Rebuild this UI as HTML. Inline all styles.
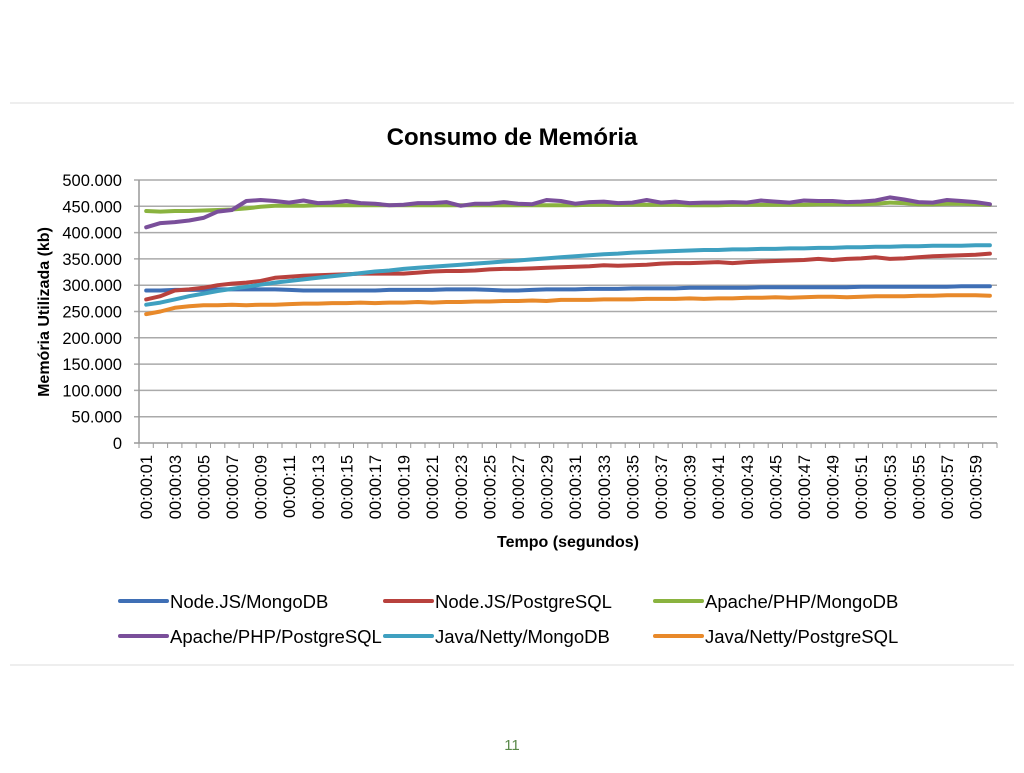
<!DOCTYPE html>
<html><head><meta charset="utf-8"><style>
body{margin:0;width:1024px;height:768px;background:#fff;overflow:hidden;font-family:"Liberation Sans",sans-serif}
</style></head><body>
<svg id="c" width="1024" height="768" xmlns="http://www.w3.org/2000/svg" font-family="Liberation Sans, sans-serif">
<line x1="10" y1="103" x2="1014" y2="103" stroke="#ddd" stroke-width="1"/>
<line x1="10" y1="665" x2="1014" y2="665" stroke="#ddd" stroke-width="1"/>
<text x="512" y="145" text-anchor="middle" font-size="24" font-weight="bold">Consumo de Memória</text>
<text transform="translate(49,312) rotate(-90)" text-anchor="middle" font-size="16" font-weight="bold">Memória Utilizada (kb)</text>
<text x="568" y="547" text-anchor="middle" font-size="16" font-weight="bold">Tempo (segundos)</text>
<text x="512" y="750" text-anchor="middle" font-size="15" fill="#5a8a4a">11</text>
<g id="grid"></g><g id="axes"></g><g id="series"></g><g id="legend"></g>
</svg>
<script>
const yTicks=[0,50,100,150,200,250,300,350,400,450,500];
const yTickLabels=["0","50.000","100.000","150.000","200.000","250.000","300.000","350.000","400.000","450.000","500.000"];
const nodeMongo=[290,290,291,291,291,292,292,292,292,292,291,290,290,290,290,290,290,291,291,291,291,292,292,292,291,290,290,291,292,292,292,293,293,293,294,294,294,294,295,295,295,295,295,296,296,296,296,296,296,296,297,297,297,297,297,297,297,298,298,298];
const nodePg=[273,279,290,292,295,300,303,305,308,314,316,318,319,320,321,322,322,322,322,324,326,327,327,328,330,331,331,332,333,334,335,336,338,337,338,339,341,342,342,343,344,342,344,345,346,347,348,350,348,350,351,353,350,351,353,355,356,357,358,360];
const apacheMongo=[441,440,441,441,442,443,444,446,449,451,451,451,452,452,452,452,452,452,452,452,452,452,452,452,452,452,452,452,452,452,452,453,453,453,453,453,453,453,452,452,452,453,453,453,453,453,453,454,454,454,454,455,457,456,454,454,455,455,454,453];
const apachePg=[410,418,420,423,428,440,443,460,462,460,457,461,456,457,460,456,455,452,453,456,456,458,451,455,455,458,455,454,462,460,455,458,459,456,457,462,457,459,456,457,457,458,457,461,459,457,461,460,460,458,459,461,467,463,458,457,462,460,458,454];
const javaMongo=[263,267,273,279,284,289,293,297,301,305,308,311,314,317,320,323,326,328,331,333,335,337,339,341,343,345,347,349,351,353,355,357,359,360,362,363,364,365,366,367,367,368,368,369,369,370,370,371,371,372,372,373,373,374,374,375,375,375,376,376];
const javaPg=[245,250,257,260,262,262,263,262,263,263,264,265,265,266,266,267,266,267,267,268,267,268,268,269,269,270,270,271,270,272,272,272,273,273,273,274,274,274,275,274,275,275,276,276,277,276,277,278,278,277,278,279,279,279,280,280,281,281,281,280];
const seriesNames=["Node.JS/MongoDB","Node.JS/PostgreSQL","Apache/PHP/MongoDB","Apache/PHP/PostgreSQL","Java/Netty/MongoDB","Java/Netty/PostgreSQL"];
const seriesData=[nodeMongo,nodePg,apacheMongo,apachePg,javaMongo,javaPg];
const colors=["#3f6fb5","#b8413d","#8ab33f","#7a4f9a","#3fa0c0","#e8892a"];
const N=60, X0=139, X1=997, Y0=443, Y1=180;
const step=(X1-X0)/N;
const sx=i=>X0+(i+0.5)*step;
const sy=v=>Y0-(v/500)*(Y0-Y1);
const NS="http://www.w3.org/2000/svg";
function mk(tag,attrs,parent){const e=document.createElementNS(NS,tag);for(const k in attrs)e.setAttribute(k,attrs[k]);parent.appendChild(e);return e;}
const grid=document.getElementById('grid'),axes=document.getElementById('axes'),ser=document.getElementById('series'),leg=document.getElementById('legend');
yTicks.forEach((t,i)=>{
 const g=mk('line',{x1:X0-5,x2:X1,y1:sy(t),y2:sy(t),stroke:t===0?'#999':'#aaa','stroke-width':1.5},grid);
 
 
 const tx=mk('text',{x:X0-17,y:sy(t)+6,'text-anchor':'end','font-size':16.5},axes);
 tx.textContent=yTickLabels[i];
 
 
});
const ya=mk('line',{x1:X0,x2:X0,y1:Y1,y2:Y0,stroke:'#999','stroke-width':1.5},axes);


for(let i=0;i<=N;i++){
 const tk=mk('line',{x1:X0+i*step,x2:X0+i*step,y1:Y0,y2:Y0+5,stroke:'#999','stroke-width':1},axes);
 
 
}
for(let i=0;i<N;i+=2){
 const lab='00:00:'+String(i+1).padStart(2,'0');
 const x=sx(i)+6;
 const tx=mk('text',{transform:`translate(${x},455) rotate(-90)`,'text-anchor':'end','font-size':16.5},axes);
 tx.textContent=lab;
 
 
}
seriesData.forEach((d,s)=>{
 const pts=d.map((v,i)=>sx(i).toFixed(1)+','+sy(v).toFixed(1)).join(' ');
 const p=mk('polyline',{points:pts,fill:'none',stroke:colors[s],'stroke-width':4,'stroke-linejoin':'round','stroke-linecap':'round'},ser);
 
 
});
const lx=[120,385,655], ly=[601,636];
seriesNames.forEach((n,s)=>{
 const x=lx[s%3], y=ly[Math.floor(s/3)];
 const g=mk('g',{},leg);
 
 
 mk('line',{x1:x,x2:x+47,y1:y,y2:y,stroke:colors[s],'stroke-width':4,'stroke-linecap':'round'},g);
 const t=mk('text',{x:x+50,y:y+7,'font-size':18.5},g);
 t.textContent=n;
});
</script>
</body></html>
